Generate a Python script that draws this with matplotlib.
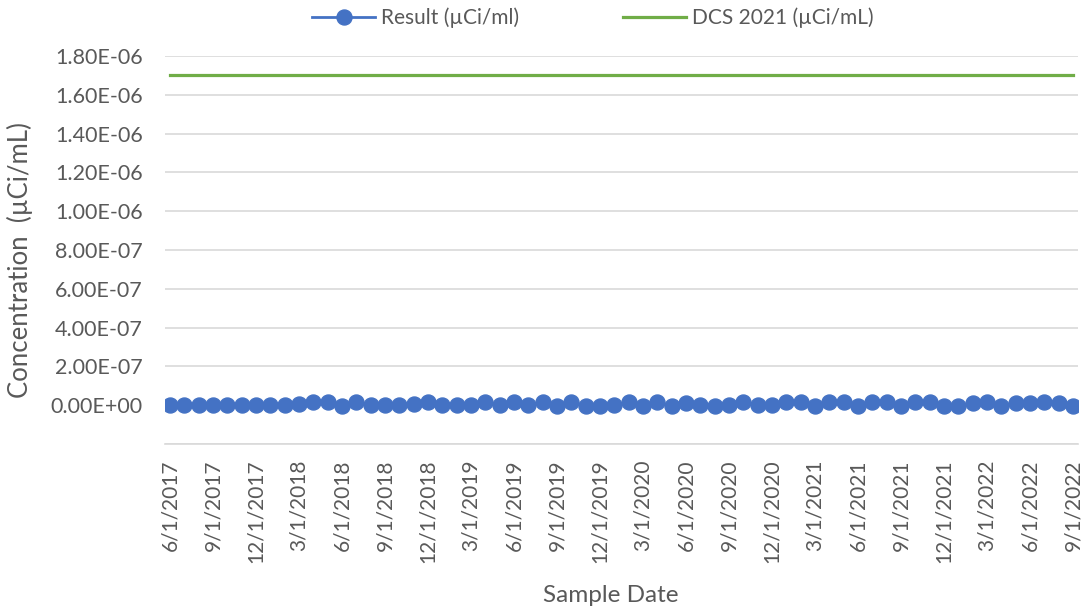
import numpy as np
import matplotlib.pyplot as plt
from matplotlib.ticker import FixedLocator, FuncFormatter

plt.rcParams['font.family'] = ['Lato', 'DejaVu Sans']

# monthly sample dates, 6/1/2017 .. 9/1/2022
months = []
for yr in range(2017, 2023):
    for mo in range(1, 13):
        if (yr == 2017 and mo < 6) or (yr == 2022 and mo > 9):
            continue
        months.append('%d/1/%d' % (mo, yr))

# results (uCi/ml) - all essentially zero
result = [0, 0, 0, 0, 0, 0, 0, 0, 0, 0.5e-8,
          1.5e-8, 1.5e-8, -0.2e-8, 1.5e-8, 0, 0, 0, 0.5e-8, 1.5e-8, 0,
          0, 0, 1.5e-8, 0, 1.5e-8, 0, 1.5e-8, -0.2e-8, 1.5e-8, -0.2e-8,
          -0.2e-8, 0, 1.5e-8, -0.2e-8, 1.5e-8, -0.2e-8, 1.2e-8, 0, -0.2e-8, 0,
          1.5e-8, 0, 0, 1.5e-8, 1.5e-8, -0.4e-8, 1.5e-8, 1.5e-8, -0.2e-8, 1.5e-8,
          1.5e-8, -0.2e-8, 1.5e-8, 1.5e-8, -0.2e-8, -0.2e-8, 1.2e-8, 1.5e-8, -0.2e-8, 1.2e-8,
          1.2e-8, 1.5e-8, 1.2e-8, -0.2e-8]
dcs = [1.7e-6] * len(months)

x = np.arange(len(months))
grey = '#595959'

fig = plt.figure(figsize=(10.88, 6.07), dpi=100)
ax = fig.add_axes([165/1088, 1 - 444/607, (1078-165)/1088, (444-56)/607])

l1, = ax.plot(x, result, color='#4472C4', lw=2, marker='o', markersize=10.8,
              label='Result (µCi/ml)', zorder=3)
l2, = ax.plot(x, dcs, color='#70AD47', lw=2.3, label='DCS 2021 (µCi/mL)', zorder=2)

ax.set_xlim(-0.35, len(months) - 1 + 0.35)
ax.set_ylim(-2e-7, 1.8e-6)
yt = np.arange(-2e-7, 1.81e-6, 2e-7)
ax.yaxis.set_major_locator(FixedLocator(yt))
ax.yaxis.set_major_formatter(FuncFormatter(
    lambda v, p: '' if v < -1e-9 else '%.2E' % v))
ax.grid(axis='y', color='#D9D9D9', lw=1.2)
ax.set_axisbelow(True)

ax.set_xticks(x[::3])
ax.set_xticklabels(months[::3], rotation=90)

for s in ['top', 'right', 'left']:
    ax.spines[s].set_visible(False)
ax.spines['bottom'].set_color('#D9D9D9')
ax.spines['bottom'].set_linewidth(1.2)
ax.tick_params(axis='x', length=0, pad=11, labelsize=15, labelcolor=grey)
ax.tick_params(axis='y', length=0, pad=16, labelsize=15.5, labelcolor=grey)

ax.set_xlabel('Sample Date', fontsize=17.5, color=grey)
ax.xaxis.set_label_coords(0.4885, -0.363)
ax.set_ylabel('Concentration  (µCi/mL)', fontsize=18.5, color=grey)
ax.yaxis.set_label_coords(-0.1446, 0.474)

fig.legend(handles=[l1, l2], loc='center', bbox_to_anchor=(0.545, 1 - 18/607),
           ncol=2, frameon=False, fontsize=15, labelcolor=grey,
           handlelength=3.0, columnspacing=5, handletextpad=0.3)

plt.savefig('out.png', dpi=100)
